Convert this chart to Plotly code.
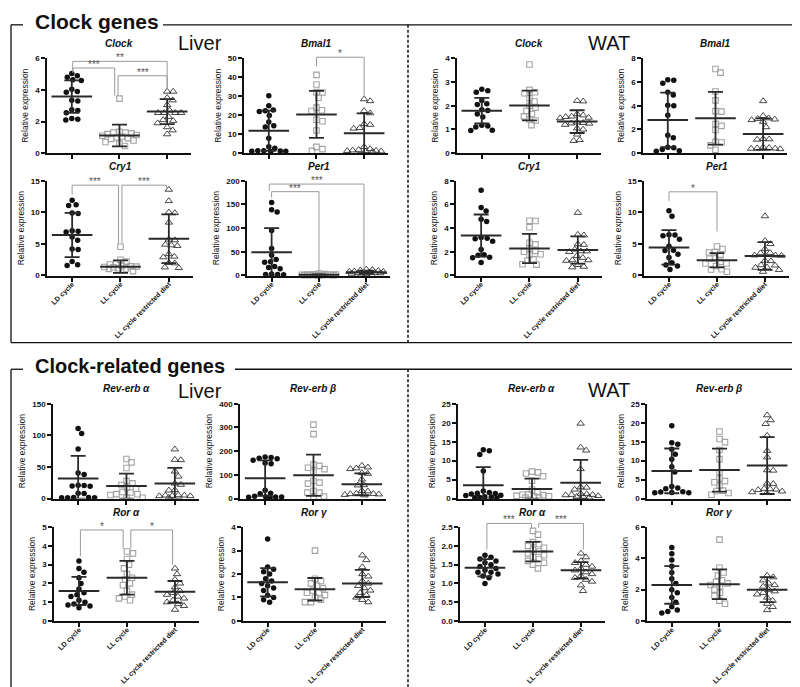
import math
import plotly.graph_objects as go

W, H = 800, 687
FONT = "Liberation Sans, Arial, sans-serif"

CATEGORIES = ["LD cycle", "LL cycle", "LL cycle restricted diet"]

# ---------------- data (relative expression) ----------------
CLOCK_LIVER_LD = [5.05, 4.9, 4.8, 4.65, 4.6, 4.05, 3.9, 3.85, 3.35, 3.3, 2.75, 2.7, 2.55, 2.2, 2.15, 2.1]
CLOCK_LIVER_LL = [3.45, 1.35, 1.3, 1.3, 1.25, 1.2, 1.15, 1.1, 1.05, 1.0, 0.95, 0.9, 0.8, 0.7, 0.6, 0.45]
CLOCK_LIVER_RD = [3.9, 3.9, 3.5, 3.35, 3.05, 2.7, 2.55, 2.55, 2.55, 2.55, 2.3, 2.1, 2.05, 1.9, 1.65, 1.45, 1.2]
CLOCK_LIVER_MEAN = [3.58, 1.12, 2.63]
CLOCK_LIVER_SD = [1.03, 0.69, 0.79]

BMAL1_LIVER_LD = [30.3, 25.0, 22.8, 22.3, 22.0, 19.9, 16.4, 14.5, 13.8, 7.8, 3.3, 2.6, 1.3, 1.2, 1.1, 1.0, 1.0, 0.9]
BMAL1_LIVER_LL = [41.3, 36.2, 32.2, 32.0, 29.2, 24.0, 22.6, 22.2, 17.6, 16.8, 11.9, 3.3, 2.1, 1.2]
BMAL1_LIVER_RD = [28.5, 27.5, 22.3, 21.1, 15.4, 15.0, 13.3, 13.0, 3.3, 2.2, 1.8, 1.5, 1.3, 1.2, 1.0, 0.9, 0.8]
BMAL1_LIVER_MEAN = [11.8, 20.4, 10.5]
BMAL1_LIVER_SD = [10.6, 12.4, 10.5]

CLOCK_WAT_LD = [2.7, 2.63, 2.57, 2.22, 2.08, 2.05, 1.83, 1.8, 1.65, 1.52, 1.18, 1.15, 1.1, 0.97, 0.95]
CLOCK_WAT_LL = [3.74, 2.67, 2.57, 2.53, 2.32, 2.18, 2.0, 1.92, 1.78, 1.65, 1.55, 1.42, 1.38, 1.18]
CLOCK_WAT_RD = [2.21, 2.19, 1.65, 1.6, 1.55, 1.53, 1.5, 1.48, 1.3, 1.28, 1.26, 1.25, 1.2, 1.05, 1.0, 0.79, 0.56, 0.52]
CLOCK_WAT_MEAN = [1.79, 2.01, 1.33]
CLOCK_WAT_SD = [0.54, 0.63, 0.48]

BMAL1_WAT_LD = [6.2, 6.15, 5.9, 5.15, 4.9, 4.05, 4.0, 3.2, 1.5, 1.3, 0.5, 0.45, 0.3, 0.2, 0.15]
BMAL1_WAT_LL = [7.1, 6.8, 5.2, 4.45, 3.55, 3.5, 2.45, 2.3, 1.95, 0.95, 0.9, 0.65, 0.28]
BMAL1_WAT_RD = [4.4, 3.15, 2.95, 2.9, 2.85, 2.8, 2.65, 2.2, 1.2, 1.18, 1.15, 0.5, 0.45, 0.42, 0.4, 0.38, 0.35]
BMAL1_WAT_MEAN = [2.8, 2.95, 1.61]
BMAL1_WAT_SD = [2.3, 2.23, 1.33]

CRY1_LIVER_LD = [11.9, 11.2, 11.1, 9.9, 9.8, 7.1, 7.0, 6.9, 6.1, 5.6, 4.2, 4.1, 2.2, 1.7, 1.6]
CRY1_LIVER_LL = [4.55, 2.5, 2.2, 1.85, 1.75, 1.5, 1.45, 1.4, 1.35, 1.3, 1.15, 1.1, 1.05, 0.7]
CRY1_LIVER_RD = [13.6, 11.8, 10.0, 9.9, 8.4, 5.7, 5.6, 4.9, 4.8, 4.7, 3.4, 3.0, 2.9, 2.0, 1.95, 1.3, 1.2]
CRY1_LIVER_MEAN = [6.4, 1.4, 5.82]
CRY1_LIVER_SD = [3.5, 0.98, 3.85]

PER1_LIVER_LD = [154, 139, 134, 95, 57, 43, 34, 29, 28, 19, 17, 14, 3, 2, 2, 1.5]
PER1_LIVER_LL = [4.0, 3.0, 2.5, 2.0, 2.0, 1.8, 1.5, 1.2, 1.1, 1.0, 0.9, 0.8, 0.7, 0.5, 0.3]
PER1_LIVER_RD = [13, 12, 11, 10, 9, 8, 8, 7, 7, 6, 5, 5, 4, 3, 2, 1]
PER1_LIVER_MEAN = [49, 1.5, 7.0]
PER1_LIVER_SD = [51, 1.0, 3.5]

CRY1_WAT_LD = [7.2, 5.75, 5.45, 4.75, 4.55, 3.2, 3.15, 3.1, 2.9, 2.2, 1.75, 1.7, 1.55, 1.5, 1.1]
CRY1_WAT_LL = [4.62, 4.6, 4.07, 2.77, 2.63, 2.27, 2.08, 2.0, 1.8, 1.75, 1.36, 1.25, 0.95, 0.92]
CRY1_WAT_RD = [5.3, 3.45, 3.4, 2.65, 2.6, 2.2, 2.05, 2.05, 2.0, 1.65, 1.5, 1.3, 1.3, 1.25, 0.9, 0.75, 0.7]
CRY1_WAT_MEAN = [3.37, 2.28, 2.15]
CRY1_WAT_SD = [1.78, 1.23, 1.15]

PER1_WAT_LD = [10.25, 9.4, 6.45, 6.4, 6.3, 5.75, 4.65, 4.0, 3.95, 3.35, 2.85, 2.0, 1.65, 1.5, 0.95]
PER1_WAT_LL = [4.6, 4.2, 3.7, 3.65, 3.3, 2.7, 2.65, 2.15, 1.9, 1.9, 1.5, 1.0, 0.95, 0.6]
PER1_WAT_RD = [9.4, 5.5, 5.0, 4.2, 3.6, 3.55, 3.2, 3.2, 3.15, 2.35, 2.3, 1.65, 1.6, 1.3, 1.25, 0.9, 0.6]
PER1_WAT_MEAN = [4.45, 2.42, 3.1]
PER1_WAT_SD = [2.72, 1.13, 2.2]

REVA_LIVER_LD = [111, 103, 78.6, 40.5, 38, 21, 20.5, 20, 19.5, 8.5, 8, 1.6, 1.5, 1.4, 1.3, 1.2]
REVA_LIVER_LL = [62.5, 57.3, 48.4, 27.6, 24, 21.4, 17.2, 16, 10.4, 9.5, 7.0, 6.8, 5.5, 1.6, 1.2]
REVA_LIVER_RD = [78, 61.5, 61, 43, 35, 24, 22, 13.5, 13, 5.5, 5, 5, 4.5, 4, 4, 1.5]
REVA_LIVER_MEAN = [31.8, 19.8, 24.0]
REVA_LIVER_SD = [35.9, 19.8, 24.4]

REVB_LIVER_LD = [175, 173, 170, 168, 162, 150, 147, 35, 22, 20, 10, 8, 7, 6, 5, 4]
REVB_LIVER_LL = [312, 272, 143, 138, 130, 124, 112, 74, 67, 63, 32, 25, 25, 8, 7]
REVB_LIVER_RD = [139, 132, 128, 125, 108, 105, 81, 57, 56, 33, 31, 21, 20, 19, 18, 16, 14]
REVB_LIVER_MEAN = [86, 98.6, 60]
REVB_LIVER_SD = [75, 87, 46]

REVA_WAT_LD = [12.9, 12.6, 11.6, 7.3, 2.0, 1.6, 1.4, 1.3, 1.2, 0.9, 0.8, 0.5, 0.4, 0.3, 0.2, 0.15]
REVA_WAT_LL = [7.1, 6.9, 6.6, 5.9, 4.7, 2.4, 1.7, 1.1, 1.0, 0.9, 0.7, 0.6, 0.5, 0.3, 0.25]
REVA_WAT_RD = [19.8, 13.5, 12.7, 7.8, 3.0, 2.9, 2.4, 1.3, 1.2, 1.0, 1.0, 0.9, 0.7, 0.5, 0.4, 0.3]
REVA_WAT_MEAN = [3.53, 2.5, 4.14]
REVA_WAT_SD = [4.75, 2.76, 6.06]

REVB_WAT_LD = [19.2, 14.7, 14.3, 13.0, 11.7, 10.4, 8.4, 7.0, 3.2, 2.8, 2.6, 1.8, 1.7, 1.6, 1.5, 1.5]
REVB_WAT_LL = [17.7, 15.7, 14.9, 12.8, 10.4, 6.9, 5.3, 4.6, 4.3, 3.4, 2.1, 2.0, 1.45, 1.0]
REVB_WAT_RD = [22, 20.7, 19.7, 16.6, 12.6, 10.9, 7.5, 7.4, 4.0, 3.9, 2.6, 2.5, 2.4, 2.3, 1.9, 1.7, 1.5]
REVB_WAT_MEAN = [7.3, 7.5, 8.7]
REVB_WAT_SD = [5.9, 5.65, 7.5]

RORA_LIVER_LD = [3.2, 2.8, 2.6, 2.3, 2.0, 1.7, 1.5, 1.4, 1.3, 1.1, 1.0, 0.9, 0.85, 0.8, 0.7]
RORA_LIVER_LL = [3.7, 3.6, 3.3, 3.0, 2.8, 2.5, 2.3, 2.2, 2.0, 1.9, 1.6, 1.4, 1.3, 1.2, 1.1]
RORA_LIVER_RD = [2.8, 2.5, 2.2, 2.0, 1.8, 1.6, 1.5, 1.4, 1.3, 1.2, 1.1, 1.0, 0.9, 0.8, 0.6]
RORA_LIVER_MEAN = [1.6, 2.3, 1.55]
RORA_LIVER_SD = [0.75, 0.9, 0.58]

RORG_LIVER_LD = [3.5, 2.3, 2.2, 2.1, 2.0, 1.8, 1.7, 1.6, 1.5, 1.4, 1.3, 1.1, 1.0, 0.9, 0.8]
RORG_LIVER_LL = [3.0, 1.8, 1.7, 1.6, 1.5, 1.4, 1.3, 1.2, 1.2, 1.1, 1.0, 0.9, 0.8, 0.8]
RORG_LIVER_RD = [2.8, 2.6, 2.3, 2.0, 1.9, 1.7, 1.6, 1.5, 1.4, 1.3, 1.2, 1.1, 1.0, 0.9, 0.8]
RORG_LIVER_MEAN = [1.65, 1.35, 1.6]
RORG_LIVER_SD = [0.6, 0.48, 0.58]

RORA_WAT_LD = [1.75, 1.7, 1.65, 1.6, 1.55, 1.5, 1.45, 1.4, 1.35, 1.3, 1.3, 1.25, 1.2, 1.15, 1.0]
RORA_WAT_LL = [2.4, 2.3, 2.1, 2.05, 2.0, 1.95, 1.9, 1.85, 1.8, 1.75, 1.7, 1.65, 1.6, 1.55, 1.5, 1.4]
RORA_WAT_RD = [1.8, 1.7, 1.6, 1.55, 1.5, 1.45, 1.4, 1.35, 1.3, 1.25, 1.2, 1.15, 1.1, 1.05, 0.95, 0.8]
RORA_WAT_MEAN = [1.42, 1.85, 1.35]
RORA_WAT_SD = [0.23, 0.26, 0.22]

RORG_WAT_LD = [4.7, 4.3, 3.9, 3.5, 3.1, 2.7, 2.4, 2.0, 1.8, 1.5, 1.2, 0.9, 0.7, 0.6, 0.5]
RORG_WAT_LL = [5.2, 3.4, 3.1, 2.9, 2.6, 2.5, 2.4, 2.3, 2.2, 2.0, 1.8, 1.6, 1.3, 1.1]
RORG_WAT_RD = [2.9, 2.8, 2.6, 2.4, 2.3, 2.2, 2.0, 1.9, 1.8, 1.7, 1.5, 1.3, 1.1, 0.9, 0.7]
RORG_WAT_MEAN = [2.3, 2.35, 2.0]
RORG_WAT_SD = [1.2, 0.95, 0.8]

PANEL_TITLES = ["Clock", "Bmal1", "Clock", "Bmal1",
                "Cry1", "Per1", "Cry1", "Per1",
                "Rev-erb α", "Rev-erb β", "Rev-erb α", "Rev-erb β",
                "Ror α", "Ror γ", "Ror α", "Ror γ"]
Y_MAX = [6, 50, 4, 8, 15, 200, 8, 15, 150, 400, 25, 25, 5, 4, 2.5, 6]
Y_DTICK = [2, 10, 1, 2, 5, 50, 2, 5, 50, 100, 5, 5, 1, 1, 0.5, 2]

SERIES = [
    (CLOCK_LIVER_LD, CLOCK_LIVER_LL, CLOCK_LIVER_RD, CLOCK_LIVER_MEAN, CLOCK_LIVER_SD),
    (BMAL1_LIVER_LD, BMAL1_LIVER_LL, BMAL1_LIVER_RD, BMAL1_LIVER_MEAN, BMAL1_LIVER_SD),
    (CLOCK_WAT_LD, CLOCK_WAT_LL, CLOCK_WAT_RD, CLOCK_WAT_MEAN, CLOCK_WAT_SD),
    (BMAL1_WAT_LD, BMAL1_WAT_LL, BMAL1_WAT_RD, BMAL1_WAT_MEAN, BMAL1_WAT_SD),
    (CRY1_LIVER_LD, CRY1_LIVER_LL, CRY1_LIVER_RD, CRY1_LIVER_MEAN, CRY1_LIVER_SD),
    (PER1_LIVER_LD, PER1_LIVER_LL, PER1_LIVER_RD, PER1_LIVER_MEAN, PER1_LIVER_SD),
    (CRY1_WAT_LD, CRY1_WAT_LL, CRY1_WAT_RD, CRY1_WAT_MEAN, CRY1_WAT_SD),
    (PER1_WAT_LD, PER1_WAT_LL, PER1_WAT_RD, PER1_WAT_MEAN, PER1_WAT_SD),
    (REVA_LIVER_LD, REVA_LIVER_LL, REVA_LIVER_RD, REVA_LIVER_MEAN, REVA_LIVER_SD),
    (REVB_LIVER_LD, REVB_LIVER_LL, REVB_LIVER_RD, REVB_LIVER_MEAN, REVB_LIVER_SD),
    (REVA_WAT_LD, REVA_WAT_LL, REVA_WAT_RD, REVA_WAT_MEAN, REVA_WAT_SD),
    (REVB_WAT_LD, REVB_WAT_LL, REVB_WAT_RD, REVB_WAT_MEAN, REVB_WAT_SD),
    (RORA_LIVER_LD, RORA_LIVER_LL, RORA_LIVER_RD, RORA_LIVER_MEAN, RORA_LIVER_SD),
    (RORG_LIVER_LD, RORG_LIVER_LL, RORG_LIVER_RD, RORG_LIVER_MEAN, RORG_LIVER_SD),
    (RORA_WAT_LD, RORA_WAT_LL, RORA_WAT_RD, RORA_WAT_MEAN, RORA_WAT_SD),
    (RORG_WAT_LD, RORG_WAT_LL, RORG_WAT_RD, RORG_WAT_MEAN, RORG_WAT_SD),
]

# significance brackets: panel, x from, x to, y of bar, y left end, y right end, label
BRACKETS = [
    (0, 0.02, 0.9, 5.39, 5.1, 3.64, "***"),
    (0, 0.02, 2.0, 5.81, 5.1, 4.06, "**"),
    (0, 0.97, 2.0, 4.9, 3.64, 4.06, "***"),
    (1, 1.0, 2.0, 50.6, 45.7, 29.8, "*"),
    (4, 0.0, 0.96, 14.3, 12.8, 5.07, "***"),
    (4, 1.03, 1.95, 14.3, 5.07, 13.9, "***"),
    (5, 0.0, 1.0, 177, 165, 6, "***"),
    (5, -0.05, 1.95, 193, 179, 10, "***"),
    (7, 0.0, 1.0, 13.25, 11.8, 6.96, "*"),
    (12, 0.03, 0.92, 4.85, 3.45, 3.85, "*"),
    (12, 1.08, 1.95, 4.85, 3.85, 3.0, "*"),
    (14, 0.04, 0.97, 2.6, 1.9, 2.48, "***"),
    (14, 1.12, 2.05, 2.6, 2.48, 1.9, "***"),
]

# ---------------- layout geometry (pixels) ----------------
PANEL_X = [(39, 183), (236, 380), (449, 593), (635, 779),
           (39, 185), (239, 382), (448, 594), (636, 781),
           (45, 191), (232, 378), (450, 597), (639, 783),
           (46, 191), (235, 378), (452, 597), (639, 783)]
ROW_Y = [(47, 143), (171, 267), (397, 493), (522, 617)]
ROW_TITLE_Y = [32, 157, 382, 507]
X_RANGE = [-0.52, 2.5]
EXT = 22  # extra pixels above each plot for brackets


def fx(p):
    return p / W


def fy(p):
    return 1 - p / H


def swarm(vals, ppu_y, ppu_x, diam=6.0, maxw=0.36):
    n = len(vals)
    order = sorted(range(n), key=lambda i: -vals[i])
    cands = [0.0]
    for k in range(1, 80):
        cands += [k * 0.5, -k * 0.5]
    placed = []
    xs = [0.0] * n
    for i in order:
        yi = vals[i] * ppu_y
        chosen, bestc, bests = None, 0.0, -1.0
        for c in cands:
            if abs(c) > maxw * ppu_x:
                continue
            d = min((math.hypot(c - a, yi - b) for a, b in placed), default=1e9)
            if d >= diam:
                chosen = c
                break
            if d > bests:
                bests, bestc = d, c
        if chosen is None:
            chosen = bestc
        placed.append((chosen, yi))
        xs[i] = chosen / ppu_x
    return xs


fig = go.Figure()
layout = dict(
    width=W, height=H, margin=dict(l=0, r=0, t=0, b=0),
    paper_bgcolor="white", plot_bgcolor="rgba(0,0,0,0)",
    showlegend=False, font=dict(family=FONT, color="#111"),
)
annotations = []
shapes = []

EB = "#2a2a2a"
bracket_panels = sorted(set(b[0] for b in BRACKETS))
ext_index = {p: 17 + k for k, p in enumerate(bracket_panels)}

for p in range(16):
    n = p + 1
    s = "" if n == 1 else str(n)
    row = p // 4
    x0, x1 = PANEL_X[p]
    yt, yb = ROW_Y[row]
    ymax = Y_MAX[p]
    show_labels = row in (1, 3)
    layout["xaxis" + s] = dict(
        domain=[fx(x0), fx(x1)], range=X_RANGE, anchor="y" + s,
        showline=True, linewidth=2, linecolor="#111", mirror=False,
        ticks="outside", ticklen=4, tickwidth=1.5, tickcolor="#111",
        tickmode="array", tickvals=[0, 1, 2], ticktext=CATEGORIES,
        showticklabels=show_labels, tickangle=-45, ticklabelstandoff=-4,
        tickfont=dict(size=7, weight="bold", color="#111", family=FONT),
        showgrid=False, zeroline=False, fixedrange=True,
    )
    ya = dict(
        domain=[fy(yb), fy(yt)], range=[0, ymax], anchor="x" + s,
        showline=True, linewidth=1.5, linecolor="#111",
        ticks="outside", ticklen=4, tickwidth=1.5, tickcolor="#111",
        tick0=0, dtick=Y_DTICK[p],
        tickfont=dict(size=8, weight="bold", color="#111", family=FONT),
        title=dict(text="Relative expression", font=dict(size=8.5, color="#111", family=FONT), standoff=5),
        showgrid=False, zeroline=False, fixedrange=True,
    )
    if Y_DTICK[p] < 1:
        ya["tickformat"] = ".1f"
    layout["yaxis" + s] = ya

    ppu_y = (yb - yt) / ymax
    ppu_x = (x1 - x0) / (X_RANGE[1] - X_RANGE[0])
    ld, ll, rd, mean, sd = SERIES[p]
    styles = [
        dict(symbol="circle", size=5.5, color="#111", line=dict(width=0)),
        dict(symbol="square-open", size=5.5, color="#a3a3a3", line=dict(width=1.1, color="#a3a3a3")),
        dict(symbol="triangle-up-open", size=6.5, color="#333", line=dict(width=0.9, color="#333")),
    ]
    for g, vals in enumerate((ld, ll, rd)):
        offs = swarm(vals, ppu_y, ppu_x)
        fig.add_trace(go.Scatter(
            x=[g + o for o in offs], y=vals, mode="markers", marker=styles[g],
            xaxis="x" + s, yaxis="y" + s, cliponaxis=False, hoverinfo="skip",
        ))
    fig.add_trace(go.Scatter(
        x=[0, 1, 2], y=mean, mode="markers",
        marker=dict(symbol="line-ew", size=29, color=EB, line=dict(color=EB, width=2)),
        error_y=dict(type="data", symmetric=False, array=sd,
                     arrayminus=[min(a, b) for a, b in zip(sd, mean)],
                     color=EB, thickness=1.8, width=7.5),
        xaxis="x" + s, yaxis="y" + s, cliponaxis=False, hoverinfo="skip",
    ))
    annotations.append(dict(
        text="<b><i>%s</i></b>" % PANEL_TITLES[p], x=1, xref="x" + s,
        y=fy(ROW_TITLE_Y[row]), yref="paper", showarrow=False,
        xanchor="center", yanchor="middle", font=dict(size=10, color="#111", family=FONT),
    ))

    if p in ext_index:
        m = ext_index[p]
        ms = str(m)
        layout["xaxis" + ms] = dict(domain=[fx(x0), fx(x1)], range=X_RANGE, anchor="y" + ms,
                                    visible=False, fixedrange=True)
        layout["yaxis" + ms] = dict(domain=[fy(yb), fy(yt - EXT)],
                                    range=[0, ymax * (yb - yt + EXT) / (yb - yt)],
                                    anchor="x" + ms, visible=False, fixedrange=True)

for (p, xa, xb, ytop, yl, yr, lab) in BRACKETS:
    ms = str(ext_index[p])
    fig.add_trace(go.Scatter(
        x=[xa, xa, xb, xb], y=[yl, ytop, ytop, yr], mode="lines",
        line=dict(color="#9a9a9a", width=1), xaxis="x" + ms, yaxis="y" + ms,
        hoverinfo="skip",
    ))
    annotations.append(dict(
        text=lab, x=(xa + xb) / 2, xref="x" + ms, y=ytop, yref="y" + ms,
        showarrow=False, xanchor="center", yanchor="bottom", yshift=-4,
        font=dict(size=10, color="#555", family=FONT),
    ))

# section headings
for txt, x, y, size, bold in [
    ("Clock genes", 25, 10, 21, True),
    ("Clock-related genes", 25, 359, 20, True),
    ("Liver", 168, 31, 20, False),
    ("WAT", 578, 31, 20, False),
    ("Liver", 168, 384, 20, False),
    ("WAT", 578, 383, 20, False),
]:
    annotations.append(dict(
        text=("<b>%s</b>" % txt) if bold else txt, x=fx(x), y=fy(y),
        xref="paper", yref="paper", showarrow=False, xanchor="left", yanchor="middle",
        font=dict(size=size, color="#111", family=FONT),
    ))

# frames
BOX = dict(color="#111", width=1.3)
for (a, b, c, d) in [
    (3, 13, 15, 13), (155, 13, 797, 13), (3, 13, 3, 335), (3, 335, 797, 335), (797, 13, 797, 335),
    (3, 362, 15, 362), (227, 362, 797, 362), (3, 362, 3, 687), (797, 362, 797, 687),
]:
    shapes.append(dict(type="line", xref="paper", yref="paper",
                       x0=fx(a), y0=fy(b), x1=fx(c), y1=fy(d), line=BOX))
for (b, d) in [(13, 335), (362, 687)]:
    shapes.append(dict(type="line", xref="paper", yref="paper",
                       x0=fx(400), y0=fy(b), x1=fx(400), y1=fy(d),
                       line=dict(color="#111", width=1.5, dash="3px,2px")))

layout["annotations"] = annotations
layout["shapes"] = shapes
fig.update_layout(**layout)
fig.write_html("out.html")
